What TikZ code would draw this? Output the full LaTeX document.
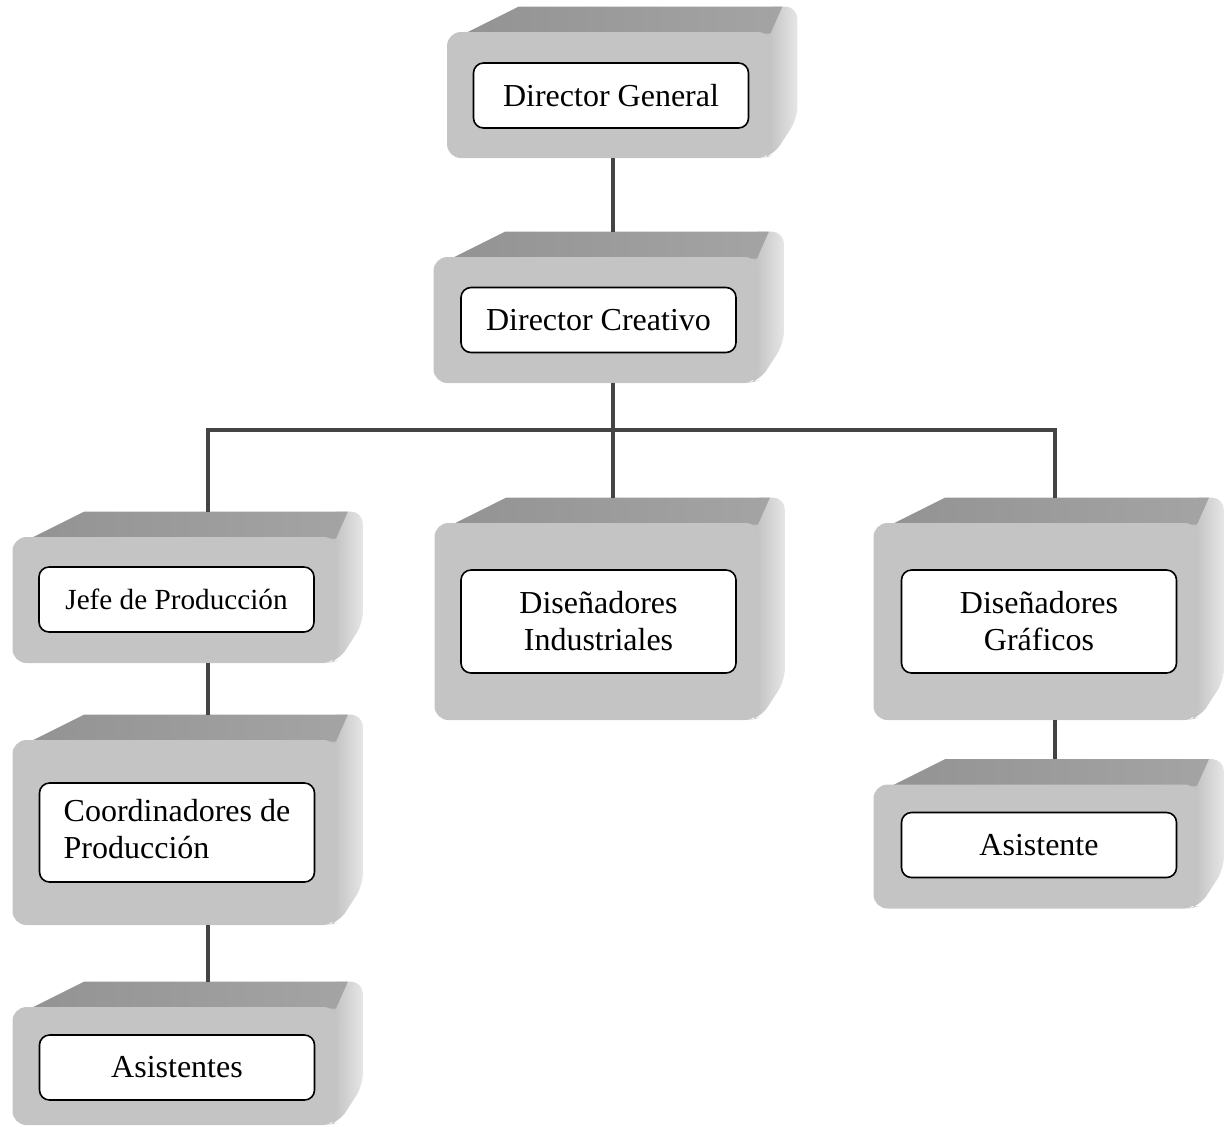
\documentclass[tikz,border=0pt]{standalone}
\usepackage{fontspec}
\setmainfont{Liberation Serif}
\usetikzlibrary{calc}
\pgfdeclarelayer{bg}
\pgfsetlayers{bg,main}
\definecolor{frontc}{HTML}{C4C4C4}
\definecolor{topl}{HTML}{939393}
\definecolor{topr}{HTML}{A4A4A4}
\definecolor{sidel}{HTML}{B8B8B8}
\definecolor{sider}{HTML}{E6E6E6}
\definecolor{linec}{HTML}{444444}
\tikzset{
  front/.style={fill=frontc, rounded corners=7pt, minimum width=162.5pt, inner sep=0pt},
  labelbox/.style={fill=white, draw=black, line width=0.8pt, rounded corners=5pt,
    minimum width=137.5pt, inner sep=0pt, align=center, font=\fontsize{16}{18.5}\selectfont},
  conn/.style={draw=linec, line width=1.8pt},
}
\newcommand\cubefaces[1]{%
  \shade[left color=sidel,right color=sider, rounded corners=6pt]
    ($(#1.north east)+(-12,4)$) -- ($(#1.north east)+(-12,-25)$) -- ($(#1.north east)+(25,-25)$)
    -- ($(#1.south east)+(25,-40)$) -- ($(#1.south east)+(1,-3)$)
    -- ($(#1.south east)+(-12,0)$) -- cycle;
  \shade[left color=topl,right color=topr]
    ($(#1.north west)+(18,2)$) -- ($(#1.north west)+(72,-25)$)
    -- ($(#1.north east)+(10,-25)$) -- ($(#1.north east)+(-2,2)$) -- cycle;
}
\begin{document}
\begin{tikzpicture}[x=0.5pt,y=-0.5pt]
\useasboundingbox (0,0) rectangle (1229,1126);
% front faces
\node[front, minimum height=63pt]   (dgF)  at (609.5,95) {};
\node[front, minimum height=63pt]   (dcF)  at (596,320) {};
\node[front, minimum height=63pt]   (jpF)  at (175,600) {};
\node[front, minimum height=98.5pt] (diF)  at (597,621.5) {};
\node[front, minimum height=98.5pt] (dgrF) at (1036,621.5) {};
\node[front, minimum height=92.5pt] (cpF)  at (175,832.5) {};
\node[front, minimum height=59pt]   (alF)  at (175,1066) {};
\node[front, minimum height=62pt]   (arF)  at (1036,846.5) {};
\begin{pgfonlayer}{bg}
  \cubefaces{dgF}\cubefaces{dcF}\cubefaces{jpF}\cubefaces{diF}
  \cubefaces{dgrF}\cubefaces{cpF}\cubefaces{alF}\cubefaces{arF}
\end{pgfonlayer}
% label boxes
\node[labelbox, minimum height=32.5pt] (dg)  at (611,95.5) {Director General};
\node[labelbox, minimum height=32.5pt] (dc)  at (598.5,320) {Director Creativo};
\node[labelbox, minimum height=32.5pt, font=\fontsize{14.6}{17}\selectfont] (jp) at (176.5,599.5) {Jefe de Producción};
\node[labelbox, minimum height=51.5pt] (di)  at (598.5,621.5) {Diseñadores\\Industriales};
\node[labelbox, minimum height=51.5pt] (dgr) at (1039,621.5) {Diseñadores\\Gráficos};
\node[labelbox, minimum height=49.5pt] (cp)  at (177,832.5) {\begin{tabular}{@{}l@{}}Coordinadores de\\Producción\end{tabular}};
\node[labelbox, minimum height=32.5pt] (al)  at (177,1067.5) {Asistentes};
\node[labelbox, minimum height=32.5pt] (ar)  at (1039,845) {Asistente};
% connectors
\coordinate (bus)  at (613,430);
\coordinate (busL) at (208,430);
\coordinate (busR) at (1055,430);
\draw[conn] (dgF.south -| bus) -- ($(dcF.north -| bus)+(0,-25)$);
\draw[conn] (dcF.south -| bus) -- (bus);
\draw[conn] ($(jpF.north -| busL)+(0,-25)$) -- (busL) -- (busR) -- ($(dgrF.north -| busR)+(0,-25)$);
\draw[conn] (bus) -- ($(diF.north -| bus)+(0,-25)$);
\draw[conn] (jpF.south -| busL) -- ($(cpF.north -| busL)+(0,-25)$);
\draw[conn] (cpF.south -| busL) -- ($(alF.north -| busL)+(0,-25)$);
\draw[conn] (dgrF.south -| busR) -- ($(arF.north -| busR)+(0,-25)$);
\end{tikzpicture}
\end{document}
